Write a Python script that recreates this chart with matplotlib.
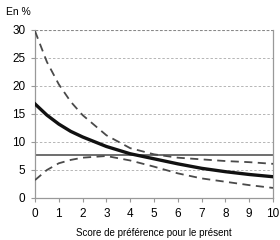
import numpy as np
import matplotlib
matplotlib.use("Agg")
import matplotlib.pyplot as plt

# values
score = [0, 0.5, 1, 1.5, 2, 3, 4, 5, 6, 7, 8, 9, 10]
central = [16.8, 14.8, 13.2, 11.9, 10.9, 9.2, 7.9, 7.0, 6.1, 5.3, 4.7, 4.2, 3.8]
upper = [29.8, 24.3, 20.3, 17.2, 14.8, 11.2, 8.9, 7.8, 7.2, 6.9, 6.6, 6.4, 6.1]
lower = [3.2, 5.0, 6.2, 6.8, 7.2, 7.5, 6.7, 5.6, 4.4, 3.5, 2.9, 2.3, 1.8]
reference = 7.6

yticks = [0, 5, 10, 15, 20, 25, 30]
xticks = list(range(0, 11))

plt.rcParams['font.family'] = ['Liberation Sans', 'DejaVu Sans']

fig = plt.figure(figsize=(2.8, 2.4), dpi=100)
ax = fig.add_axes([0.125, 0.175, 0.85, 0.70])

for y in yticks[1:-1]:
    ax.axhline(y, color="#b5b5b5", lw=0.7, ls=(0, (2.5, 2)), zorder=0)
ax.axhline(yticks[-1], color="#888888", lw=0.8, ls=(0, (2.5, 1.5)), zorder=0)

ax.axhline(reference, color="#555555", lw=1.2, zorder=2)
ax.plot(score, upper, color="#4a4a4a", lw=1.3, ls=(0, (4.5, 3)), zorder=3)
ax.plot(score, lower, color="#4a4a4a", lw=1.3, ls=(0, (4.5, 3)), zorder=3)
ax.plot(score, central, color="#111111", lw=2.4, zorder=4)

ax.set_xlim(0, 10)
ax.set_ylim(0, 30)
ax.set_xticks(xticks)
ax.set_yticks(yticks)
ax.tick_params(labelsize=8.5, length=3, color="#999999", direction="out", pad=4)
for s in ["left", "bottom", "right"]:
    ax.spines[s].set_color("#999999")
    ax.spines[s].set_linewidth(0.9)
ax.spines["top"].set_visible(False)

ax.set_xlabel("Score de préférence pour le présent", fontsize=7, labelpad=6)
fig.text(0.02, 0.95, "En %", fontsize=7.5, ha="left", va="center")

fig.savefig("out.png", dpi=100)
